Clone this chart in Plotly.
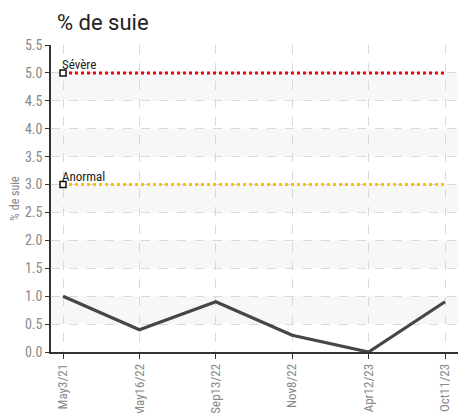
import plotly.graph_objects as go

dates = ["May3/21", "May16/22", "Sep13/22", "Nov8/22", "Apr12/23", "Oct11/23"]
soot = [1.0, 0.4, 0.9, 0.3, 0.0, 0.9]
severe_level = 5.0
abnormal_level = 3.0
severe_label = "Sévère"
abnormal_label = "Anormal"
y_ticks = [0.0, 0.5, 1.0, 1.5, 2.0, 2.5, 3.0, 3.5, 4.0, 4.5, 5.0, 5.5]
bands = [(0.5, 1.0), (1.5, 2.0), (2.5, 3.0), (3.5, 4.0), (4.5, 5.0)]

FONT = "Liberation Sans Narrow, Roboto Condensed, Arial Narrow, sans-serif"

fig = go.Figure()

for lvl, col in [(severe_level, "#ff0000"), (abnormal_level, "#ffc000")]:
    fig.add_trace(go.Scatter(x=dates, y=[lvl] * len(dates), mode="lines",
                             line=dict(color=col, width=3, dash="dot"),
                             hoverinfo="skip", showlegend=False))
    fig.add_trace(go.Scatter(x=[dates[0]], y=[lvl], mode="markers",
                             marker=dict(symbol="square", size=6, color="white",
                                         line=dict(color="#111", width=1.5)),
                             showlegend=False, hoverinfo="skip"))

fig.add_trace(go.Scatter(x=dates, y=soot, mode="lines",
                         line=dict(color="#464646", width=3.2),
                         showlegend=False))

shapes = []
for lo, hi in bands:
    shapes.append(dict(type="rect", xref="paper", yref="y", x0=0, x1=1, y0=lo, y1=hi,
                       fillcolor="#f7f7f7", line=dict(width=0), layer="below"))

annotations = []
for lvl, txt in [(severe_level, severe_label), (abnormal_level, abnormal_label)]:
    annotations.append(dict(x=dates[0], y=lvl, xref="x", yref="y", text=txt,
                            showarrow=False, xanchor="left", yanchor="bottom",
                            xshift=-3, yshift=-1,
                            font=dict(family=FONT, size=13, color="#222")))

fig.update_layout(
    width=458, height=413,
    margin=dict(l=51, r=0, t=45, b=61),
    paper_bgcolor="white", plot_bgcolor="white",
    title=dict(text="% de suie", x=57 / 458, xanchor="left", y=1 - 22 / 413, yanchor="middle",
               font=dict(family="Roboto, Liberation Sans, sans-serif", size=22, color="#222")),
    shapes=shapes, annotations=annotations,
    xaxis=dict(type="category", categoryorder="array", categoryarray=dates,
               range=[-0.157, 5.17], showgrid=True, gridcolor="#d9d9d9", griddash="dash",
               gridwidth=1, showline=True, linecolor="#333", linewidth=1.5,
               ticks="outside", ticklen=5, tickcolor="#333", tickangle=-90,
               automargin=False,
               tickfont=dict(family=FONT, size=13, color="#888"), zeroline=False),
    yaxis=dict(range=[0, 5.5], tickvals=y_ticks, tickformat=".1f",
               showgrid=True, gridcolor="#d9d9d9", griddash="dash", gridwidth=1,
               showline=True, linecolor="#333", linewidth=1.5,
               ticks="outside", ticklen=4, tickcolor="#333", automargin=False,
               tickfont=dict(family=FONT, size=14, color="#888"), zeroline=False,
               title=dict(text="% de suie", standoff=3,
                          font=dict(family=FONT, size=12, color="#888"))),
)

fig.write_html("out.html", config={"displayModeBar": False},
               post_script="document.body.style.margin='0';document.body.style.overflow='hidden';document.documentElement.style.overflow='hidden';")
